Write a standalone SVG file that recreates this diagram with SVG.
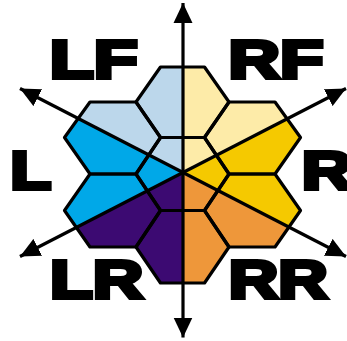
<svg xmlns="http://www.w3.org/2000/svg" width="347" height="341" viewBox="0 0 347 341">
  <style>
    .hex { fill: none; stroke: #000; stroke-width: 3.2; stroke-linejoin: round; }
    .axis { fill: none; stroke: #000; stroke-width: 3.2; marker-start: url(#ah); marker-end: url(#ah); }
    .lbl { font-family: "Liberation Sans", Arial, sans-serif; font-weight: 700; font-size: 54px; fill: #000; stroke: #000; stroke-width: 4; stroke-linejoin: miter; }
  </style>
  <defs>
    <marker id="ah" markerUnits="userSpaceOnUse" markerWidth="22" markerHeight="20" refX="20" refY="9.5" orient="auto-start-reverse" viewBox="0 0 22 19">
      <path d="M0,0 L20,9.5 L0,19 Z" fill="#000"/>
    </marker>
    <clipPath id="hexclip">
      <polygon points="160.5,67 204.5,67 229,102 204.5,137.5 160.5,137.5 136,102"/>
      <polygon points="90,102 136,102 160.5,137.5 136,174 90,174 64.5,137.5"/>
      <polygon points="90,174 136,174 160.5,210.5 136,247 90,247 64.5,210.5"/>
      <polygon points="160.5,137.5 204.5,137.5 229,174 204.5,210.5 160.5,210.5 136,174"/>
      <polygon points="160.5,210.5 204.5,210.5 229,247 204.5,283 160.5,283 136,247"/>
      <polygon points="229,102 275,102 300.5,137.5 275,174 229,174 204.5,137.5"/>
      <polygon points="229,174 275,174 300.5,210.5 275,247 229,247 204.5,210.5"/>
    </clipPath>
  </defs>

  <g id="sectors" clip-path="url(#hexclip)">
    <polygon id="sector-LF" points="183,172.5 -143,3.5 -143,-200 183,-200" fill="#BCD7EB"/>
    <polygon id="sector-RF" points="183,172.5 183,-200 509,-200 509,3.5" fill="#FDEBA8"/>
    <polygon id="sector-L" points="183,172.5 -143,3.5 -143,341.5" fill="#00A8E8"/>
    <polygon id="sector-R" points="183,172.5 509,3.5 509,341.5" fill="#F5C900"/>
    <polygon id="sector-LR" points="183,172.5 -143,341.5 -143,600 183,600" fill="#3C0A72"/>
    <polygon id="sector-RR" points="183,172.5 509,341.5 509,600 183,600" fill="#EE973A"/>
  </g>

  <g id="hex-grid">
    <g id="hex-top"><polygon class="hex" points="160.5,67 204.5,67 229,102 204.5,137.5 160.5,137.5 136,102"/></g>
    <g id="hex-upper-left"><polygon class="hex" points="90,102 136,102 160.5,137.5 136,174 90,174 64.5,137.5"/></g>
    <g id="hex-lower-left"><polygon class="hex" points="90,174 136,174 160.5,210.5 136,247 90,247 64.5,210.5"/></g>
    <g id="hex-center"><polygon class="hex" points="160.5,137.5 204.5,137.5 229,174 204.5,210.5 160.5,210.5 136,174"/></g>
    <g id="hex-bottom"><polygon class="hex" points="160.5,210.5 204.5,210.5 229,247 204.5,283 160.5,283 136,247"/></g>
    <g id="hex-upper-right"><polygon class="hex" points="229,102 275,102 300.5,137.5 275,174 229,174 204.5,137.5"/></g>
    <g id="hex-lower-right"><polygon class="hex" points="229,174 275,174 300.5,210.5 275,247 229,247 204.5,210.5"/></g>
  </g>

  <g id="connectors">
    <line class="axis" x1="183" y1="337.5" x2="183" y2="3"/>
    <line class="axis" x1="346" y1="256.5" x2="20" y2="88.5"/>
    <line class="axis" x1="346" y1="88.5" x2="20" y2="256.5"/>
  </g>

  <g id="labels">
    <g id="label-LF"><text class="lbl" x="49.7" y="78" textLength="88" lengthAdjust="spacingAndGlyphs">LF</text></g>
    <g id="label-RF"><text class="lbl" x="228.6" y="78" textLength="95" lengthAdjust="spacingAndGlyphs">RF</text></g>
    <g id="label-L"><text class="lbl" x="10.2" y="188.5" textLength="41" lengthAdjust="spacingAndGlyphs">L</text></g>
    <g id="label-R"><text class="lbl" x="301.7" y="188.5" textLength="50.7" lengthAdjust="spacingAndGlyphs">R</text></g>
    <g id="label-LR"><text class="lbl" x="50" y="298" textLength="93.2" lengthAdjust="spacingAndGlyphs">LR</text></g>
    <g id="label-RR"><text class="lbl" x="228.8" y="298" textLength="99" lengthAdjust="spacingAndGlyphs">RR</text></g>
  </g>
</svg>
